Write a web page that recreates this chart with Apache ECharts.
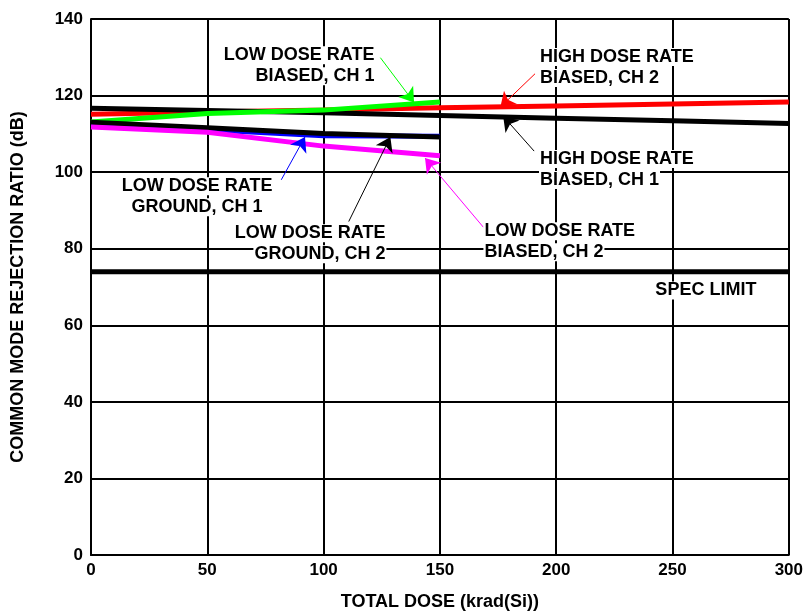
<!DOCTYPE html>
<html>
<head>
<meta charset="utf-8">
<script src="https://cdn.jsdelivr.net/npm/echarts@6/dist/echarts.min.js"></script>
<style>
  html, body { margin: 0; padding: 0; background: #fff; }
  #chart { width: 806px; height: 616px; }
</style>
</head>
<body>
<div id="chart"></div>
<script>
// doses in krad(Si), CMRR in dB
const hdrDose = [0, 50, 100, 150, 200, 250, 300];
const hdrBiasedCh2 = [115.1, 115.7, 116.2, 116.8, 117.3, 117.8, 118.3];
const hdrBiasedCh1 = [116.7, 116.1, 115.5, 114.8, 114.1, 113.4, 112.7];

const ldrDose = [0, 50, 100, 150];
const ldrBiasedCh1 = [113.1, 115.3, 116.2, 118.3];
const ldrGroundCh1 = [112.6, 111.1, 109.5, 109.4];
const ldrGroundCh2 = [113.0, 111.6, 110.1, 109.2];
const ldrBiasedCh2 = [111.8, 110.4, 106.8, 104.3];

const specLimit = 74;

const xTicks = [0, 50, 100, 150, 200, 250, 300];
const yTicks = [0, 20, 40, 60, 80, 100, 120, 140];

// callout labels and arrows, in data units
const labelText = [
  ["LOW DOSE RATE", "BIASED, CH 1"],
  ["HIGH DOSE RATE", "BIASED, CH 2"],
  ["HIGH DOSE RATE", "BIASED, CH 1"],
  ["LOW DOSE RATE", "GROUND, CH 1"],
  ["LOW DOSE RATE", "GROUND, CH 2"],
  ["LOW DOSE RATE", "BIASED, CH 2"],
  ["SPEC LIMIT"]
];
const labelAt = [
  [122.3, 127.8], [192.6, 127.3], [192.6, 100.7],
  [45.6, 93.6], [127.0, 81.3], [168.7, 81.8], [242.2, 69.1]
];
const labelAlign = ["right", "left", "left", "center", "right", "left", "left"];

const arrowFrom = {
  ldrB1: [124.4, 129.9], hdrB2: [190.9, 125.7], hdrB1: [190.5, 105.5],
  ldrG1: [81.8, 98.0], ldrG2: [110.8, 87.1], ldrB2: [168.7, 85.6]
};
const arrowTo = {
  ldrB1: [138.9, 118.2], hdrB2: [176.0, 117.0], hdrB1: [177.2, 114.6],
  ldrG1: [92.0, 109.2], ldrG2: [128.7, 109.2], ldrB2: [143.6, 103.7]
};

const FONT = "'Liberation Sans', Arial, sans-serif";

function pairs(xs, ys) {
  return xs.map((x, i) => [x, ys[i]]);
}

function arrow(key, color) {
  return {
    silent: true,
    symbol: ["none", "arrow"],
    symbolSize: 14,
    label: { show: false },
    lineStyle: { color, width: 1, type: "solid" },
    emphasis: { disabled: true },
    data: [[{ coord: arrowFrom[key] }, { coord: arrowTo[key] }]]
  };
}

function lineSeries(name, xs, ys, color, key) {
  return {
    name,
    type: "line",
    data: pairs(xs, ys),
    symbol: "none",
    lineStyle: { color, width: 5 },
    itemStyle: { color },
    markLine: arrow(key, color)
  };
}

const chart = echarts.init(document.getElementById("chart"));

chart.setOption({
  animation: false,
  backgroundColor: "#fff",
  grid: { left: 91, right: 11, top: 19, bottom: 58, containLabel: false },
  xAxis: {
    type: "value",
    min: 0,
    max: 300,
    interval: 50,
    name: "TOTAL DOSE (krad(Si))",
    nameLocation: "middle",
    nameGap: 38,
    nameTextStyle: { fontFamily: FONT, fontWeight: "bold", fontSize: 18, color: "#000" },
    axisLine: { lineStyle: { color: "#000", width: 2 } },
    axisTick: { show: false },
    axisLabel: {
      fontFamily: FONT, fontWeight: "bold", fontSize: 17, color: "#000", margin: 7,
      formatter: (v) => (xTicks.includes(v) ? String(v) : "")
    },
    splitLine: { show: true, lineStyle: { color: "#000", width: 2 } }
  },
  yAxis: {
    type: "value",
    min: 0,
    max: 140,
    interval: 20,
    name: "COMMON MODE REJECTION RATIO (dB)",
    nameLocation: "middle",
    nameGap: 64,
    nameRotate: 90,
    nameTextStyle: { fontFamily: FONT, fontWeight: "bold", fontSize: 18, color: "#000" },
    axisLine: { show: true, lineStyle: { color: "#000", width: 2 } },
    axisTick: { show: false },
    axisLabel: {
      fontFamily: FONT, fontWeight: "bold", fontSize: 17, color: "#000", margin: 8,
      formatter: (v) => (yTicks.includes(v) ? String(v) : "")
    },
    splitLine: { show: true, lineStyle: { color: "#000", width: 2 } }
  },
  series: [
    {
      name: "SPEC LIMIT",
      type: "line",
      data: [[0, specLimit], [300, specLimit]],
      symbol: "none",
      lineStyle: { color: "#000", width: 5 },
      z: 3,
      markPoint: {
        silent: true,
        symbol: "rect",
        symbolSize: 0,
        data: labelText.map((lines, i) => ({
          coord: labelAt[i],
          value: 0,
          label: {
            show: true,
            position: "inside",
            formatter: lines.map((l) => "{t|" + l + "}").join("\n"),
            align: labelAlign[i],
            verticalAlign: "middle",
            rich: {
              t: {
                fontFamily: FONT,
                fontWeight: "bold",
                fontSize: 18,
                lineHeight: 21,
                color: "#000",
                backgroundColor: "#fff",
                align: labelAlign[i],
                padding: [0, 1]
              }
            }
          }
        }))
      }
    },
    lineSeries("HDR BIASED CH 2", hdrDose, hdrBiasedCh2, "#ff0000", "hdrB2"),
    lineSeries("HDR BIASED CH 1", hdrDose, hdrBiasedCh1, "#000000", "hdrB1"),
    lineSeries("LDR BIASED CH 1", ldrDose, ldrBiasedCh1, "#00ff00", "ldrB1"),
    lineSeries("LDR GROUND CH 1", ldrDose, ldrGroundCh1, "#0000ff", "ldrG1"),
    lineSeries("LDR GROUND CH 2", ldrDose, ldrGroundCh2, "#000000", "ldrG2"),
    lineSeries("LDR BIASED CH 2", ldrDose, ldrBiasedCh2, "#ff00ff", "ldrB2")
  ]
});
</script>
</body>
</html>
